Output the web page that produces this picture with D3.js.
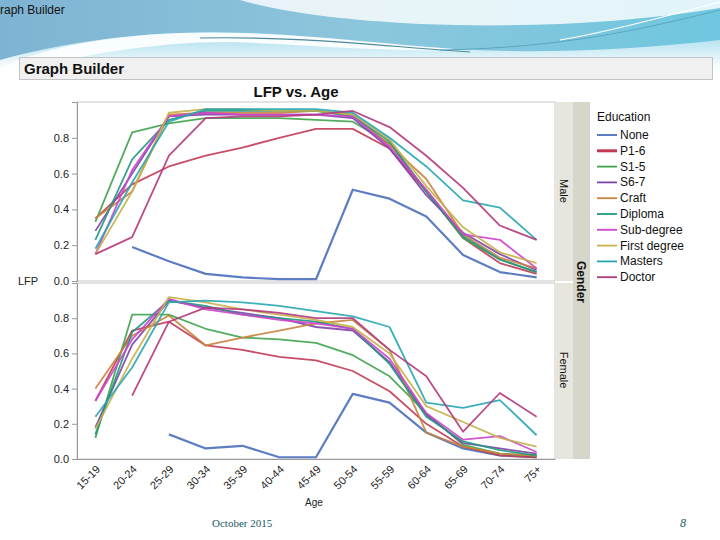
<!DOCTYPE html>
<html><head><meta charset="utf-8">
<script src="https://cdn.jsdelivr.net/npm/d3@7/dist/d3.min.js"></script>
<style>html,body{margin:0;padding:0;background:#fff;}svg{display:block;font-family:"Liberation Sans",Arial,sans-serif;}</style>
</head><body>
<svg id="c" width="720" height="540"></svg>
<script>
const ages = ["15-19","20-24","25-29","30-34","35-39","40-44","45-49","50-54","55-59","60-64","65-69","70-74","75+"];
const educations = ["None","P1-6","S1-5","S6-7","Craft","Diploma","Sub-degree","First degree","Masters","Doctor"];
const genders = ["Male","Female"];
const yTicks = [0.0,0.2,0.4,0.6,0.8];
const colors = ["#4a6fba","#c23a55","#3fa34d","#7e43a8","#c9823e","#23977f","#cc44cc","#c5b04a","#28a6b0","#b23a7c"];

const maleNone       = [null,0.19,0.11,0.04,0.02,0.01,0.01,0.51,0.46,0.36,0.145,0.05,0.02];
const maleP16        = [0.35,0.54,0.64,0.70,0.745,0.80,0.85,0.85,0.74,0.50,0.24,0.10,0.04];
const maleS15        = [0.33,0.83,0.88,0.91,0.91,0.91,0.90,0.89,0.77,0.50,0.24,0.12,0.05];
const maleS67        = [0.28,0.60,0.92,0.93,0.93,0.93,0.93,0.91,0.74,0.48,0.27,0.15,0.06];
const maleCraft      = [0.35,0.50,0.93,0.94,0.94,0.94,0.95,0.93,0.76,0.57,0.26,0.13,0.07];
const maleDiploma    = [0.23,0.68,0.90,0.95,0.95,0.95,0.95,0.92,0.78,0.50,0.25,0.12,0.05];
const maleSubdeg     = [0.15,0.62,0.92,0.94,0.93,0.93,0.93,0.92,0.75,0.51,0.26,0.23,0.07];
const maleFirst      = [0.15,0.50,0.94,0.96,0.96,0.95,0.95,0.93,0.79,0.53,0.30,0.16,0.10];
const maleMasters    = [0.18,0.55,0.89,0.96,0.96,0.96,0.96,0.94,0.80,0.64,0.45,0.41,0.23];
const maleDoctor     = [0.15,0.245,0.70,0.91,0.92,0.92,0.93,0.95,0.86,0.70,0.52,0.31,0.23];

const femaleNone     = [null,null,0.14,0.06,0.075,0.01,0.01,0.37,0.32,0.15,0.06,0.02,0.01];
const femaleP16      = [0.33,0.73,0.78,0.645,0.62,0.58,0.56,0.50,0.385,0.20,0.07,0.02,0.01];
const femaleS15      = [0.12,0.82,0.82,0.74,0.69,0.68,0.66,0.59,0.47,0.26,0.08,0.03,0.02];
const femaleS67      = [0.18,0.65,0.90,0.86,0.83,0.80,0.75,0.73,0.55,0.25,0.09,0.06,0.03];
const femaleCraft    = [0.40,0.70,0.815,0.645,0.69,0.73,0.77,0.79,0.62,0.15,0.07,0.03,0.02];
const femaleDiploma  = [0.14,0.72,0.90,0.87,0.82,0.80,0.78,0.74,0.54,0.24,0.10,0.05,0.02];
const femaleSubdeg   = [0.33,0.68,0.91,0.85,0.82,0.79,0.77,0.74,0.57,0.26,0.11,0.13,0.04];
const femaleFirst    = [0.17,0.57,0.92,0.89,0.85,0.82,0.79,0.75,0.60,0.30,0.21,0.12,0.07];
const femaleMasters  = [0.24,0.52,0.89,0.90,0.89,0.87,0.84,0.81,0.75,0.32,0.29,0.335,0.135];
const femaleDoctor   = [null,0.36,0.78,0.86,0.85,0.83,0.80,0.80,0.62,0.47,0.155,0.375,0.24];

const series = {
  Male:   [maleNone,maleP16,maleS15,maleS67,maleCraft,maleDiploma,maleSubdeg,maleFirst,maleMasters,maleDoctor],
  Female: [femaleNone,femaleP16,femaleS15,femaleS67,femaleCraft,femaleDiploma,femaleSubdeg,femaleFirst,femaleMasters,femaleDoctor]
};

const svg = d3.select("#c");

// ---- slide background decoration ----
const defs = svg.append("defs");
const g1 = defs.append("linearGradient").attr("id","gBlue").attr("x1","0").attr("y1","0").attr("x2","1").attr("y2","0");
g1.append("stop").attr("offset","0").attr("stop-color","#7fb3d3");
g1.append("stop").attr("offset","0.5").attr("stop-color","#8cc6dc");
g1.append("stop").attr("offset","1").attr("stop-color","#6fc7df");
const g2 = defs.append("linearGradient").attr("id","gCyan").attr("x1","0").attr("y1","0").attr("x2","0").attr("y2","1");
g2.append("stop").attr("offset","0").attr("stop-color","#a6dced");
g2.append("stop").attr("offset","1").attr("stop-color","#ffffff");

svg.append("rect").attr("x",0).attr("y",0).attr("width",720).attr("height",70).attr("fill","url(#gBlue)");
svg.append("path").attr("d","M0,70 L0,60 C90,35 200,25 320,38 C450,52 560,58 720,40 L720,70 Z").attr("fill","url(#gCyan)");
svg.append("path").attr("d","M0,75 L0,68 C60,40 150,30 240,33 C330,36 400,46 470,50 C380,52 300,44 230,42 C150,42 80,55 0,75 Z").attr("fill","#ffffff").attr("opacity",0.9);
svg.append("path").attr("d","M240,0 C280,12 340,20 420,24 C520,28 620,24 720,8 L720,0 Z").attr("fill","#ffffff").attr("opacity",0.8);
svg.append("path").attr("d","M200,38 C300,36 380,46 470,52").attr("fill","none").attr("stroke","#4c8a9c").attr("stroke-width",1.2);
svg.append("path").attr("d","M440,50 C560,48 640,30 720,10").attr("fill","none").attr("stroke","#5aa6c0").attr("stroke-width",1);
svg.append("path").attr("d","M560,40 C620,30 680,12 720,2").attr("fill","none").attr("stroke","#ffffff").attr("stroke-width",1.2);
svg.append("rect").attr("x",0).attr("y",70).attr("width",720).attr("height",470).attr("fill","#ffffff");

svg.append("text").attr("x",0).attr("y",14).attr("font-size",12).attr("fill","#111").text("raph Builder");

// Graph Builder header bar
svg.append("rect").attr("x",19.5).attr("y",57.5).attr("width",693).attr("height",22).attr("fill","#f0f0f0").attr("stroke","#c4c4c4");
svg.append("text").attr("x",24).attr("y",74).attr("font-size",15).attr("font-weight","bold").attr("fill","#111").text("Graph Builder");
svg.append("text").attr("x",296).attr("y",97).attr("text-anchor","middle").attr("font-size",15).attr("font-weight","bold").attr("fill","#111").text("LFP vs. Age");

// ---- plot ----
const left = 77, right = 555;
const panels = [{g:"Male", top:102, bottom:281},{g:"Female", top:283, bottom:459}];
const x = d3.scalePoint().domain(ages).range([left,right]).padding(0.5);

panels.forEach(p => {
  const y = d3.scaleLinear().domain([0,1.0]).range([p.bottom, p.top]);
  svg.append("rect").attr("x",left).attr("y",p.top).attr("width",right-left).attr("height",p.bottom-p.top)
     .attr("fill","#fff").attr("stroke","#c8c8c8").attr("stroke-width",1);
  const ax = svg.append("g").attr("transform",`translate(${left},0)`)
     .call(d3.axisLeft(y).tickValues(yTicks).tickFormat(d3.format(".1f")).tickSize(5).tickPadding(3));
  ax.select(".domain").attr("stroke","#999");
  ax.selectAll(".tick line").attr("stroke","#999");
  ax.selectAll(".tick text").attr("font-size",11).attr("fill","#222").attr("font-family","Liberation Sans, Arial, sans-serif");
  const line = d3.line().defined(d => d != null).x((d,i) => x(ages[i])).y(d => y(d));
  series[p.g].forEach((vals,k) => {
    svg.append("path").datum(vals).attr("d",line).attr("fill","none")
       .attr("stroke",colors[k]).attr("stroke-width",k===0?2.2:1.8).attr("stroke-opacity",0.9)
       .attr("stroke-linejoin","round");
  });
});

// x axis
const xa = svg.append("g").attr("transform",`translate(0,459)`).call(d3.axisBottom(x).tickSize(0).tickPadding(0));
xa.select(".domain").attr("stroke","#999");
xa.selectAll(".tick text").attr("font-size",11).attr("fill","#222").attr("font-family","Liberation Sans, Arial, sans-serif")
  .attr("text-anchor","end").attr("dy",0).attr("y",0)
  .attr("transform","translate(5,11) rotate(-45)");

svg.append("text").attr("x",314).attr("y",506).attr("text-anchor","middle").attr("font-size",10).attr("fill","#222").text("Age");
svg.append("text").attr("x",28).attr("y",285).attr("text-anchor","middle").attr("font-size",11).attr("fill","#222").text("LFP");

// facet strips
svg.append("rect").attr("x",555).attr("y",102).attr("width",18).attr("height",357).attr("fill","#e6e6de");
svg.append("rect").attr("x",573).attr("y",102).attr("width",17).attr("height",357).attr("fill","#d6d6ca");
svg.append("line").attr("x1",555).attr("x2",573).attr("y1",282).attr("y2",282).attr("stroke","#fff").attr("stroke-width",2);
svg.append("text").attr("transform","translate(560,191) rotate(90)").attr("text-anchor","middle").attr("font-size",11).attr("fill","#111").text("Male");
svg.append("text").attr("transform","translate(560,370) rotate(90)").attr("text-anchor","middle").attr("font-size",11).attr("fill","#111").text("Female");
svg.append("text").attr("transform","translate(577,282) rotate(90)").attr("text-anchor","middle").attr("font-size",12).attr("font-weight","bold").attr("fill","#111").text("Gender");

// legend
svg.append("text").attr("x",597).attr("y",121).attr("font-size",12).attr("fill","#111").text("Education");
const lg = svg.append("g").selectAll("g").data(educations).join("g")
  .attr("transform",(d,i)=>`translate(597,${135+i*15.8})`);
lg.append("line").attr("x1",0).attr("x2",20).attr("y1",0).attr("y2",0)
  .attr("stroke",(d,i)=>colors[i]).attr("stroke-width",(d,i)=>i===1?3:1.8);
lg.append("text").attr("x",23).attr("y",4).attr("font-size",12).attr("fill","#111").text(d=>d);

// footer
svg.append("text").attr("x",212).attr("y",527).attr("font-size",11).attr("fill","#1d5a68").attr("font-family","Liberation Serif, serif").text("October 2015");
svg.append("text").attr("x",680).attr("y",527).attr("font-size",12).attr("font-style","italic").attr("fill","#1d5a68").attr("font-family","Liberation Serif, serif").text("8");
</script>
</body></html>
